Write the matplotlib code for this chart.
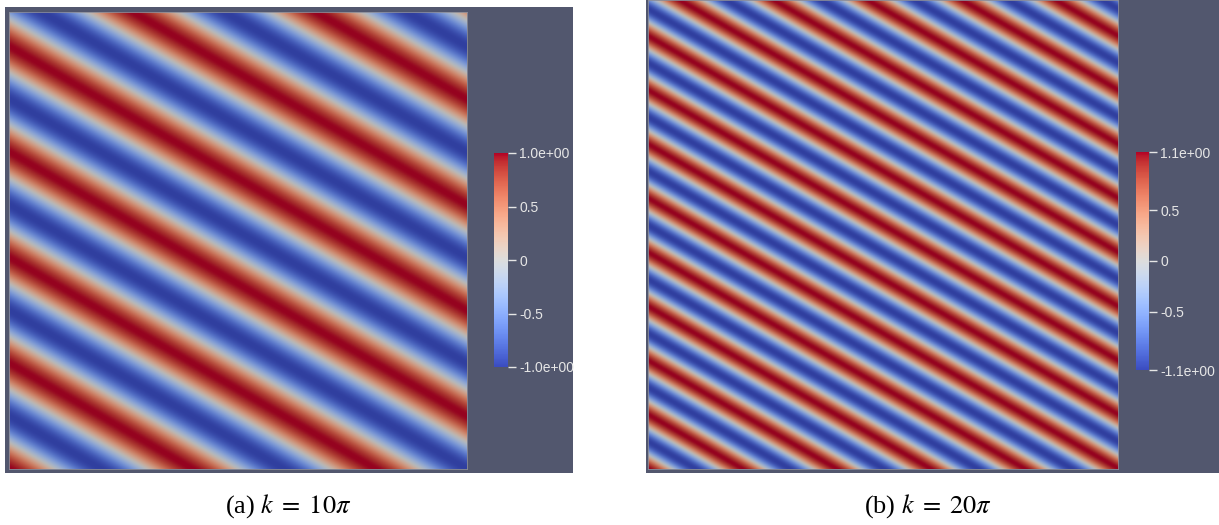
import numpy as np
import matplotlib
matplotlib.use("Agg")
import matplotlib.pyplot as plt
from matplotlib import cm, colors

plt.rcParams["font.family"] = ["Liberation Serif", "DejaVu Serif"]
plt.rcParams["mathtext.fontset"] = "stix"

# plane wave parameters
wavenumbers = [10 * np.pi, 20 * np.pi]
direction_deg = [60.0, 60.0]
amplitudes = [1.0, 1.07]
color_limits = [1.0, 1.07]
captions = [r"(a) $k\;=\;10\pi$", r"(b) $k\;=\;20\pi$"]
tick_values = [[-1.0, -0.5, 0.0, 0.5, 1.0], [-1.07, -0.5, 0.0, 0.5, 1.07]]
tick_labels = [["-1.0e+00", "-0.5", "0", "0.5", "1.0e+00"],
               ["-1.1e+00", "-0.5", "0", "0.5", "1.1e+00"]]

W, H = 1219, 525
BG = "#52576e"
SHADE = 0.83  # render lighting darkens the surface a bit

# pixel boxes (left, top, right, bottom)
bg_boxes = [(5, 7, 573, 473), (646, 0, 1219, 473)]
field_boxes = [(9, 11.5, 467, 469), (647.5, 0, 1118, 469)]
cbar_boxes = [(494, 153, 508, 367), (1136, 152, 1149, 370)]
caption_x = [288, 928]
caption_y = 506


def px_axes(fig, box, **kw):
    l, t, r, b = box
    return fig.add_axes([l / W, 1 - b / H, (r - l) / W, (b - t) / H], **kw)


fig = plt.figure(figsize=(W / 100, H / 100), dpi=100)
fig.patch.set_facecolor("white")

n = 700
x = np.linspace(0, 1, n)
X, Y = np.meshgrid(x, x)
cmap = plt.get_cmap("coolwarm")

for i in range(2):
    bg = px_axes(fig, bg_boxes[i])
    bg.set_facecolor(BG)
    bg.set_xticks([])
    bg.set_yticks([])
    for s in bg.spines.values():
        s.set_visible(False)

    ax = px_axes(fig, field_boxes[i])
    th = np.deg2rad(direction_deg[i])
    k = wavenumbers[i]
    u = amplitudes[i] * np.cos(k * (X * np.cos(th) + Y * np.sin(th)))
    norm = colors.Normalize(vmin=-color_limits[i], vmax=color_limits[i])
    rgb = cmap(norm(u))[:, :, :3] * SHADE
    ax.imshow(rgb, origin="lower", extent=[0, 1, 0, 1],
              interpolation="bilinear", aspect="auto")
    ax.set_xticks([])
    ax.set_yticks([])
    for s in ax.spines.values():
        s.set_color("#8a8c98")
        s.set_linewidth(0.6)

    cax = px_axes(fig, cbar_boxes[i])
    sm = cm.ScalarMappable(norm=norm, cmap=cmap)
    cb = fig.colorbar(sm, cax=cax)
    cb.outline.set_visible(False)
    cb.set_ticks(tick_values[i])
    cb.set_ticklabels(tick_labels[i])
    cax.tick_params(colors="#e6e6e6", length=6, width=1.0, pad=2,
                    labelsize=10, direction="out")
    for lab in cax.get_yticklabels():
        lab.set_family(["Liberation Sans", "DejaVu Sans"])
        lab.set_color("#e6e6e6")

    fig.text(caption_x[i] / W, 1 - caption_y / H, captions[i],
             ha="center", va="center", fontsize=19, color="black")

fig.savefig("out.png", dpi=100, facecolor="white")
